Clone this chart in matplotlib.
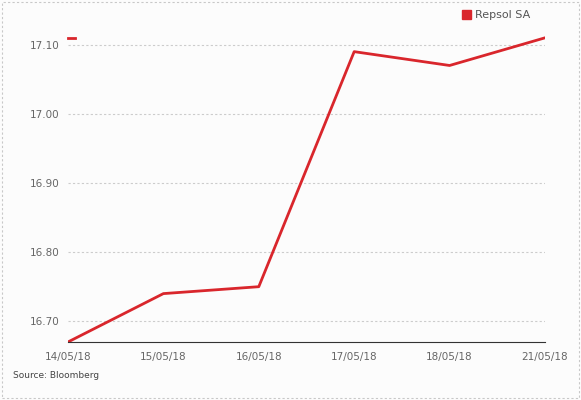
import matplotlib.pyplot as plt
from matplotlib.patches import Rectangle, Patch

dates = ["14/05/18", "15/05/18", "16/05/18", "17/05/18", "18/05/18", "21/05/18"]
values = [16.67, 16.74, 16.75, 17.09, 17.07, 17.11]
yticks = [16.70, 16.80, 16.90, 17.00, 17.10]
red = "#d9262c"

fig = plt.figure(figsize=(5.81, 4.0), dpi=100, facecolor="#fcfcfc")
fig.patches.append(Rectangle((0.004, 0.006), 0.992, 0.988, transform=fig.transFigure,
                             fill=False, ec="#c8c8c8", ls=(0, (2, 2)), lw=0.8))
ax = fig.add_axes([0.117, 0.145, 0.821, 0.795])
ax.set_facecolor("#fcfcfc")
x = list(range(len(dates)))
ax.plot(x, values, color=red, lw=2)
ax.set_xlim(0, 5)
ax.set_ylim(16.67, 17.13)
ax.set_yticks(yticks)
ax.set_yticklabels([f"{v:.2f}" for v in yticks])
ax.set_xticks(x)
ax.set_xticklabels(dates)
for s in ["top", "right", "left"]:
    ax.spines[s].set_visible(False)
ax.spines["bottom"].set_color("#333333")
ax.tick_params(length=0, colors="#666666", labelsize=7.5, pad=7)
ax.tick_params(axis="y", pad=6)
ax.grid(axis="y", color="#cccccc", ls=(0, (2, 2)), lw=0.8)
ax.plot([0.0, 0.015], [values[-1], values[-1]], color=red, lw=2, clip_on=False,
        transform=ax.get_yaxis_transform())
handle = Patch(facecolor=red, edgecolor=red, label="Repsol SA")
leg = ax.legend(handles=[handle], loc="upper right", bbox_to_anchor=(0.99, 1.075),
                frameon=False, fontsize=8, handlelength=0.8, handleheight=0.8,
                handletextpad=0.4)
for t in leg.get_texts():
    t.set_color("#555555")
fig.text(0.022, 0.055, "Source: Bloomberg", fontsize=6.5, color="#444444")
fig.savefig("out.png", facecolor=fig.get_facecolor())
